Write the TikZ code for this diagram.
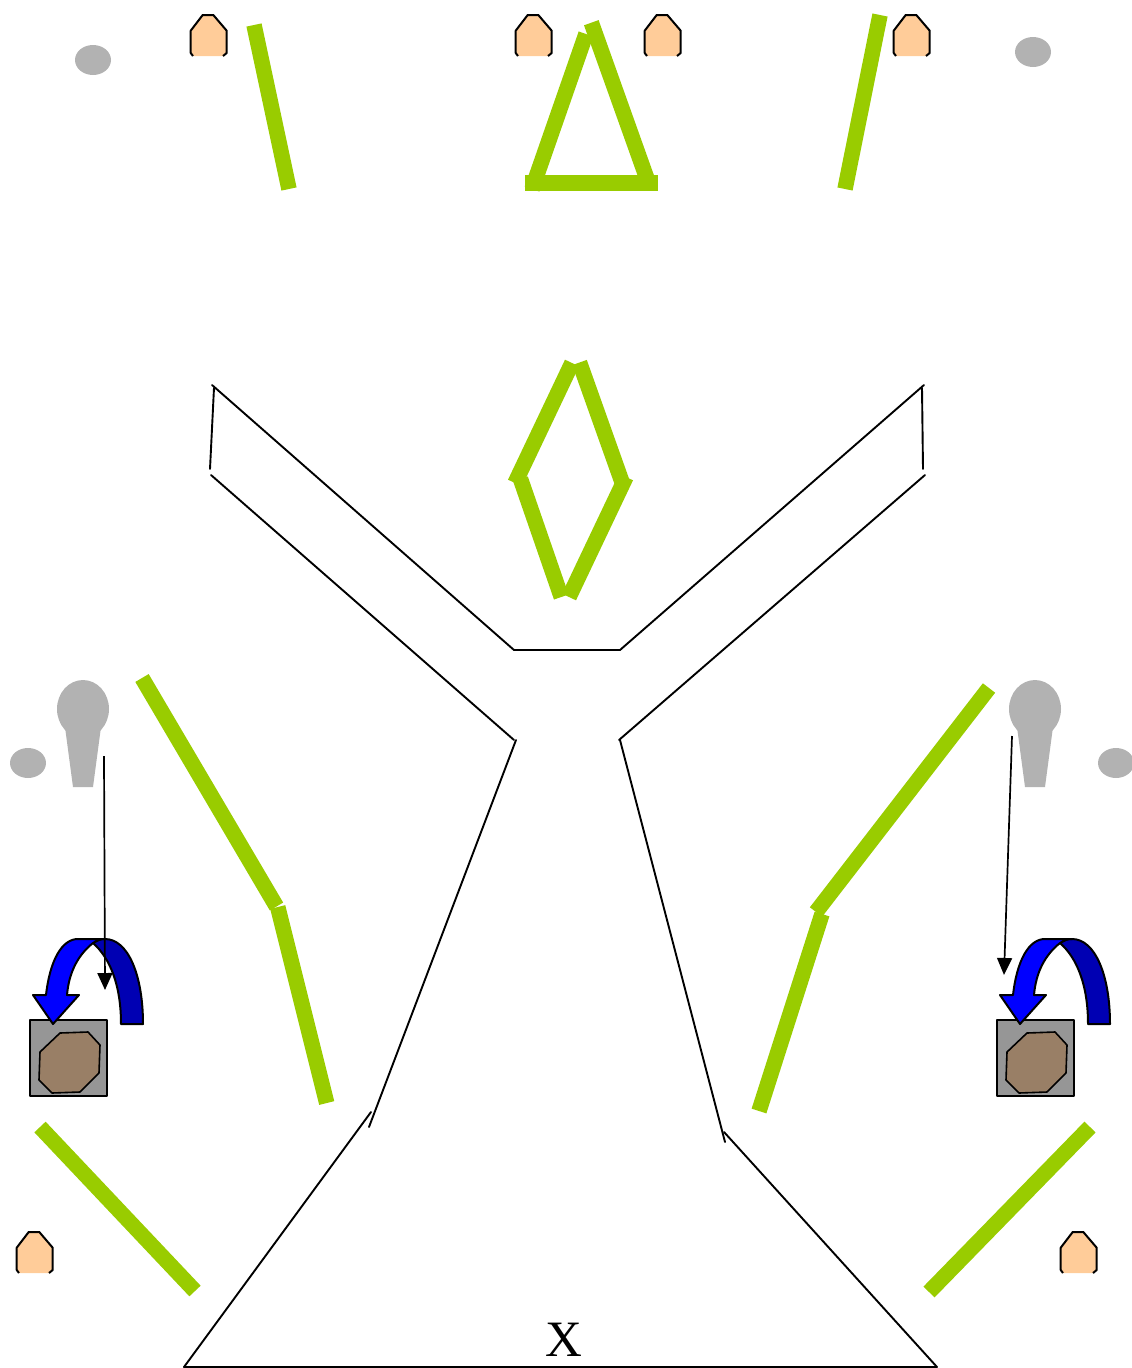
\documentclass[tikz,border=0pt]{standalone}
\usepackage{fontspec}
\setmainfont{Liberation Serif}
\usetikzlibrary{arrows.meta}
\definecolor{leaf}{HTML}{99CC00}
\definecolor{skin}{HTML}{FFCC99}
\definecolor{stone}{HTML}{B2B2B2}
\definecolor{binfill}{HTML}{969696}
\definecolor{rock}{HTML}{997F66}
\definecolor{brightblue}{HTML}{0000FF}
\definecolor{darkblue}{HTML}{0000B3}
\tikzset{
  x=1pt,y=-1pt,
  hedge/.style={draw=leaf,line width=15.5pt,line cap=butt},
  wall/.style={draw=black,line width=1.9pt,line cap=round,line join=round},
  pointer/.style={draw=black,line width=1.7pt,-{Triangle[length=17pt,width=15pt]}},
  outlined/.style={draw=black,line width=2pt,line join=round},
  pics/guard/.style={code={
    \fill[skin] (0.7,15.7) -- (12.7,0) -- (23.3,0) -- (36.7,15.7) -- (36.7,38) -- (33,41) -- (3,41) -- (0.7,38) -- cycle;
    \draw[outlined] (3,41) -- (0.7,38) -- (0.7,15.7) -- (12.7,0) -- (23.3,0) -- (36.7,15.7) -- (36.7,38) -- (33,41);
  }},
  pics/lamp/.style={code={
    \fill[stone] (0,3) ellipse[x radius=26,y radius=29];
    \fill[stone] (-18,21) -- (18,21) -- (10,81) -- (-10,81) -- cycle;
  }},
  pics/station/.style={code={
    \draw[fill=binfill,line width=2pt,line join=round] (30,1020) rectangle (106.5,1096);
    \draw[fill=rock,line width=1.6pt,line join=round] (60,1033) -- (88,1032) -- (100,1045) -- (99,1073) -- (80,1092) -- (52,1093) -- (39,1080) -- (40,1052) -- cycle;
    \draw[outlined,fill=darkblue] (93,943) .. controls (98,940) and (100,939) .. (105,939) .. controls (128,939) and (143,975) .. (143,1024) -- (121,1024) .. controls (121,985) and (110,958) .. (93,943) -- cycle;
    \draw[outlined,fill=brightblue] (53,1024) -- (33,995) -- (46,995) .. controls (50,960) and (62,939) .. (78,939) -- (105,939) .. controls (100,939) and (98,940) .. (93,943) .. controls (78,955) and (69,972) .. (67,995) -- (79,995) -- cycle;
  }}
}
\begin{document}
\begin{tikzpicture}
\useasboundingbox (0,0) rectangle (1132,1368);
\clip (0,0) rectangle (1132,1368);

% guards
\pic at (190,15) {guard};
\pic at (515,15) {guard};
\pic at (644,15) {guard};
\pic at (893,15) {guard};
\pic at (16,1232) {guard};
\pic at (1060,1232) {guard};

% stones
\fill[stone] (93,60) ellipse[x radius=18,y radius=15];
\fill[stone] (1033,52) ellipse[x radius=18,y radius=15];
\fill[stone] (28,763) ellipse[x radius=18,y radius=15];
\fill[stone] (1116,763) ellipse[x radius=18,y radius=15];

% lamps
\pic at (83,706) {lamp};
\pic at (1035,706) {lamp};

% hedges: top
\draw[hedge] (254,25) -- (289,189);
\draw[hedge] (591.3,22.7) -- (648.5,183);
\draw[hedge] (586,34) -- (532,189);
\draw[hedge] (525,183) -- (658,183);
\draw[hedge] (880,15) -- (845,189);
% hedges: diamond
\draw[hedge] (572,363) -- (515,483);
\draw[hedge] (579.5,362.5) -- (622,482);
\draw[hedge] (520.5,479) -- (561.3,597);
\draw[hedge] (626,477) -- (569,597);
% hedges: sides
\draw[hedge] (142,678) -- (276.5,906.5);
\draw[hedge] (277.7,907) -- (326.7,1103);
\draw[hedge] (40,1127) -- (195,1291);
\draw[hedge] (989,688) -- (816,912);
\draw[hedge] (822,914) -- (759,1111);
\draw[hedge] (1090,1127) -- (929,1292);

% walls
\coordinate (a1) at (212,385);
\coordinate (a2) at (514,650);
\coordinate (a3) at (620,650);
\coordinate (a4) at (924,385);
\draw[wall] (a1) -- (a2) -- (a3) -- (a4);
\draw[wall] (214,388) -- (210,469);
\draw[wall] (922,388) -- (923,469);
\coordinate (b1) at (211,475);
\coordinate (b2) at (514,740);
\coordinate (b3) at (925,475);
\coordinate (b4) at (619,740);
\draw[wall] (b1) -- (b2);
\draw[wall] (b3) -- (b4);
\draw[wall] (516,740) -- (369,1127);
\draw[wall] (620,740) -- (725,1142);
\draw[wall] (371,1112) -- (184,1367) -- (937,1367) -- (724,1132);

% stations
\pic at (0,0) {station};
\pic at (967,0) {station};

% pointers
\coordinate (p1) at (104,756);
\coordinate (p2) at (105,990);
\coordinate (p3) at (1012,736);
\coordinate (p4) at (1004,975);
\draw[pointer] (p1) -- (p2);
\draw[pointer] (p3) -- (p4);

\node[font=\fontsize{51}{51}\selectfont,inner sep=0pt] (xlabel) at (564,1340) {X};
\end{tikzpicture}
\end{document}
